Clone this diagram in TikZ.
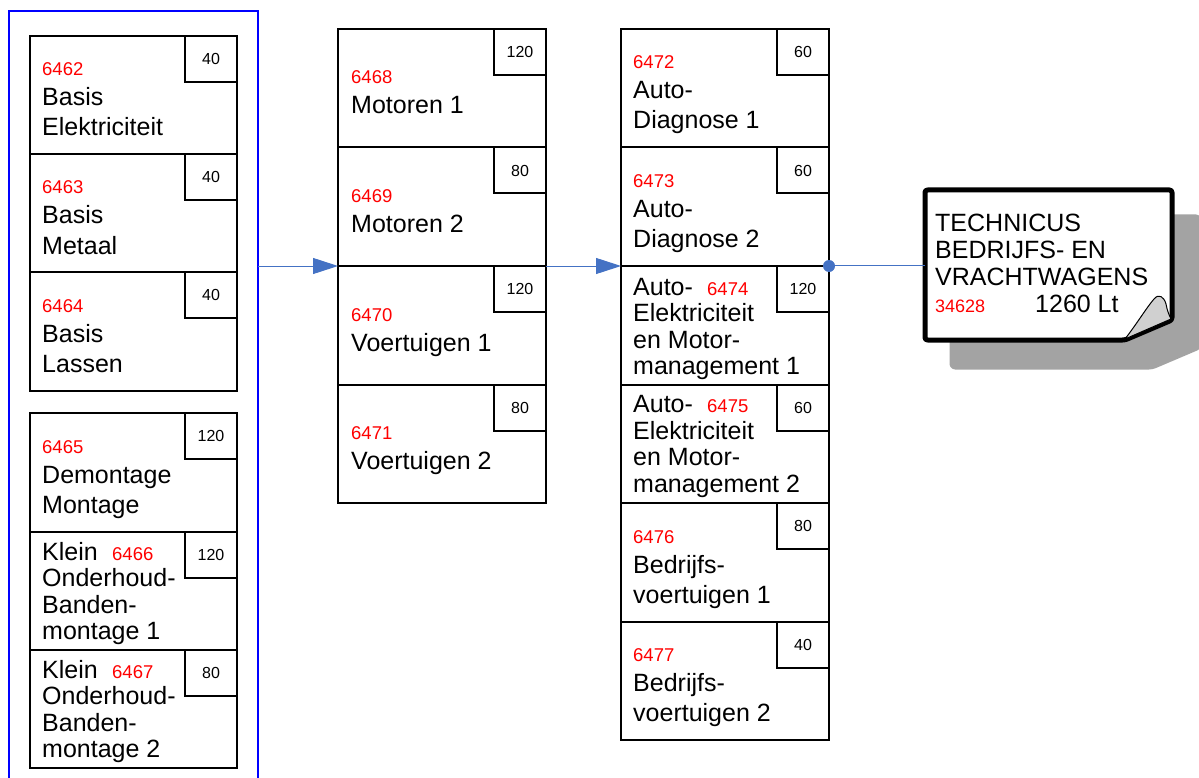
\documentclass[tikz,border=0pt]{standalone}
\usepackage{fontspec}
\setmainfont{Liberation Sans}
\usetikzlibrary{arrows.meta}
\definecolor{arrblue}{HTML}{4472C4}
\definecolor{frameblue}{HTML}{0000FF}
\definecolor{shadowgray}{HTML}{A3A3A3}
\definecolor{foldgray}{HTML}{D0D0D0}
\newcommand\txtA[1]{\parbox[t]{220pt}{\fontsize{25}{30}\selectfont\raggedright #1}}
\newcommand\txtB[1]{\parbox[t]{220pt}{\fontsize{25}{26.5}\selectfont\raggedright #1}}
\newcommand\txtC[1]{\parbox[t]{240pt}{\fontsize{25}{27}\selectfont\raggedright #1}}
\tikzset{
  course/.style={draw, line width=2pt, rectangle, anchor=north west, outer sep=0pt, inner sep=0pt, minimum width=208pt, minimum height=118.5pt},
  credit/.style={draw, line width=2pt, rectangle, anchor=north east, outer sep=0pt, inner sep=0pt, minimum width=52pt, minimum height=46pt, font=\fontsize{16}{18}\selectfont},
  codenum/.style={anchor=base west, inner sep=0pt, text=red, font=\fontsize{18.5}{20}\selectfont},
  ctext/.style={anchor=base west, inner sep=0pt},
  arr/.style={draw=arrblue, line width=1pt, -{Triangle[length=25pt,width=16pt]}, arrblue},
  conn/.style={draw=arrblue, line width=1pt},
  groupframe/.style={draw=frameblue, line width=2pt, rectangle, anchor=north west, outer sep=0pt, inner sep=0pt}
}
\begin{document}
\begin{tikzpicture}[x=1pt,y=-1pt]
\useasboundingbox (0,0) rectangle (1199,778);
\clip (0,0) rectangle (1199,778);

% ---------- column 1 (group) ----------
\node[groupframe, minimum width=249pt, minimum height=790pt] (grp) at (9,11) {};
\node[course, minimum width=207pt, minimum height=118pt] (b6462) at (30,36) {};
\node[course, minimum width=207pt, minimum height=118pt] (b6463) at (30,154) {};
\node[course, minimum width=207pt, minimum height=119pt] (b6464) at (30,272) {};
\node[course, minimum width=207pt, minimum height=119pt] (b6465) at (30,413) {};
\node[course, minimum width=207pt, minimum height=118pt] (b6466) at (30,532) {};
\node[course, minimum width=207pt, minimum height=118pt] (b6467) at (30,650) {};
\node[credit] (c6462) at (b6462.north east) {40};
\node[credit] (c6463) at (b6463.north east) {40};
\node[credit] (c6464) at (b6464.north east) {40};
\node[credit] (c6465) at (b6465.north east) {120};
\node[credit] (c6466) at (b6466.north east) {120};
\node[credit] (c6467) at (b6467.north east) {80};
\node[codenum] (n6462) at (42,76) {6462};
\node[ctext] (t6462) at (42,106) {\txtA{Basis\\Elektriciteit}};
\node[codenum] (n6463) at (42,194) {6463};
\node[ctext] (t6463) at (42,224) {\txtA{Basis\\Metaal}};
\node[codenum] (n6464) at (42,312) {6464};
\node[ctext] (t6464) at (42,342) {\txtA{Basis\\Lassen}};
\node[codenum] (n6465) at (42,453) {6465};
\node[ctext] (t6465) at (42,483) {\txtA{Demontage\\Montage}};
\node[ctext] (t6466) at (42,560) {\txtB{Klein\\Onderhoud-\\Banden-\\montage 1}};
\node[codenum] (n6466) at (112,560) {6466};
\node[ctext] (t6467) at (42,678) {\txtB{Klein\\Onderhoud-\\Banden-\\montage 2}};
\node[codenum] (n6467) at (112,678) {6467};

% ---------- column 2 ----------
\node[course] (b6468) at (338,29) {};
\node[course] (b6469) at (338,147.5) {};
\node[course] (b6470) at (338,266) {};
\node[course] (b6471) at (338,384.5) {};
\node[credit] (c6468) at (b6468.north east) {120};
\node[credit] (c6469) at (b6469.north east) {80};
\node[credit] (c6470) at (b6470.north east) {120};
\node[credit] (c6471) at (b6471.north east) {80};
\node[codenum] (n6468) at (351,84) {6468};
\node[ctext] (t6468) at (351,114) {\txtA{Motoren 1}};
\node[codenum] (n6469) at (351,202.5) {6469};
\node[ctext] (t6469) at (351,232.5) {\txtA{Motoren 2}};
\node[codenum] (n6470) at (351,321) {6470};
\node[ctext] (t6470) at (351,351) {\txtA{Voertuigen 1}};
\node[codenum] (n6471) at (351,439.5) {6471};
\node[ctext] (t6471) at (351,469.5) {\txtA{Voertuigen 2}};

% ---------- column 3 ----------
\node[course] (b6472) at (621,29) {};
\node[course] (b6473) at (621,147.5) {};
\node[course] (b6474) at (621,266) {};
\node[course] (b6475) at (621,384.5) {};
\node[course] (b6476) at (621,503) {};
\node[course] (b6477) at (621,621.5) {};
\node[credit] (c6472) at (b6472.north east) {60};
\node[credit] (c6473) at (b6473.north east) {60};
\node[credit] (c6474) at (b6474.north east) {120};
\node[credit] (c6475) at (b6475.north east) {60};
\node[credit] (c6476) at (b6476.north east) {80};
\node[credit] (c6477) at (b6477.north east) {40};
\node[codenum] (n6472) at (633,69) {6472};
\node[ctext] (t6472) at (633,99) {\txtA{Auto-\\Diagnose 1}};
\node[codenum] (n6473) at (633,187.5) {6473};
\node[ctext] (t6473) at (633,217.5) {\txtA{Auto-\\Diagnose 2}};
\node[ctext] (t6474) at (633,295) {\txtB{Auto-\\Elektriciteit\\en Motor-\\management 1}};
\node[codenum] (n6474) at (707,295) {6474};
\node[ctext] (t6475) at (633,412.5) {\txtB{Auto-\\Elektriciteit\\en Motor-\\management 2}};
\node[codenum] (n6475) at (707,412.5) {6475};
\node[codenum] (n6476) at (633,543) {6476};
\node[ctext] (t6476) at (633,573) {\txtA{Bedrijfs-\\voertuigen 1}};
\node[codenum] (n6477) at (633,661.5) {6477};
\node[ctext] (t6477) at (633,691.5) {\txtA{Bedrijfs-\\voertuigen 2}};

% ---------- final document shape ----------
\filldraw[shadowgray, line width=5pt, rounded corners=3pt, line join=round]
  (952,217) -- (1199,217) -- (1199,347) -- (1152,367) -- (952,367) -- cycle;
\draw[fill=white, line width=5pt, rounded corners=2.5pt, line join=round]
  (925,190) -- (1172,190) -- (1172,320) -- (1125,340) -- (925,340) -- cycle;
\filldraw[fill=foldgray, draw=black, line width=1pt, line join=round]
  (1125,339) .. controls (1138,322) and (1147,307) .. (1154,299)
  .. controls (1159,293) and (1164,297) .. (1166,304)
  .. controls (1167,310) and (1169,315) .. (1171,319) -- cycle;
\coordinate (docw) at (925,265);
\node[ctext] (doctitle) at (935,232) {\txtC{TECHNICUS\\BEDRIJFS- EN\\VRACHTWAGENS}};
\node[codenum, font=\fontsize{18}{20}\selectfont] (docnum) at (935,312) {34628};
\node[ctext, font=\fontsize{25}{27}\selectfont] (docsize) at (1035,312) {1260 Lt};

% ---------- connectors ----------
\draw[arr] (grp.east |- b6470.north west) -- (b6470.north west);
\draw[arr] (b6470.north east) -- (b6474.north west);
\draw[conn] (b6474.north east |- docw) -- (docw);
\fill[arrblue] (b6474.north east) circle (6pt);
\end{tikzpicture}
\end{document}
